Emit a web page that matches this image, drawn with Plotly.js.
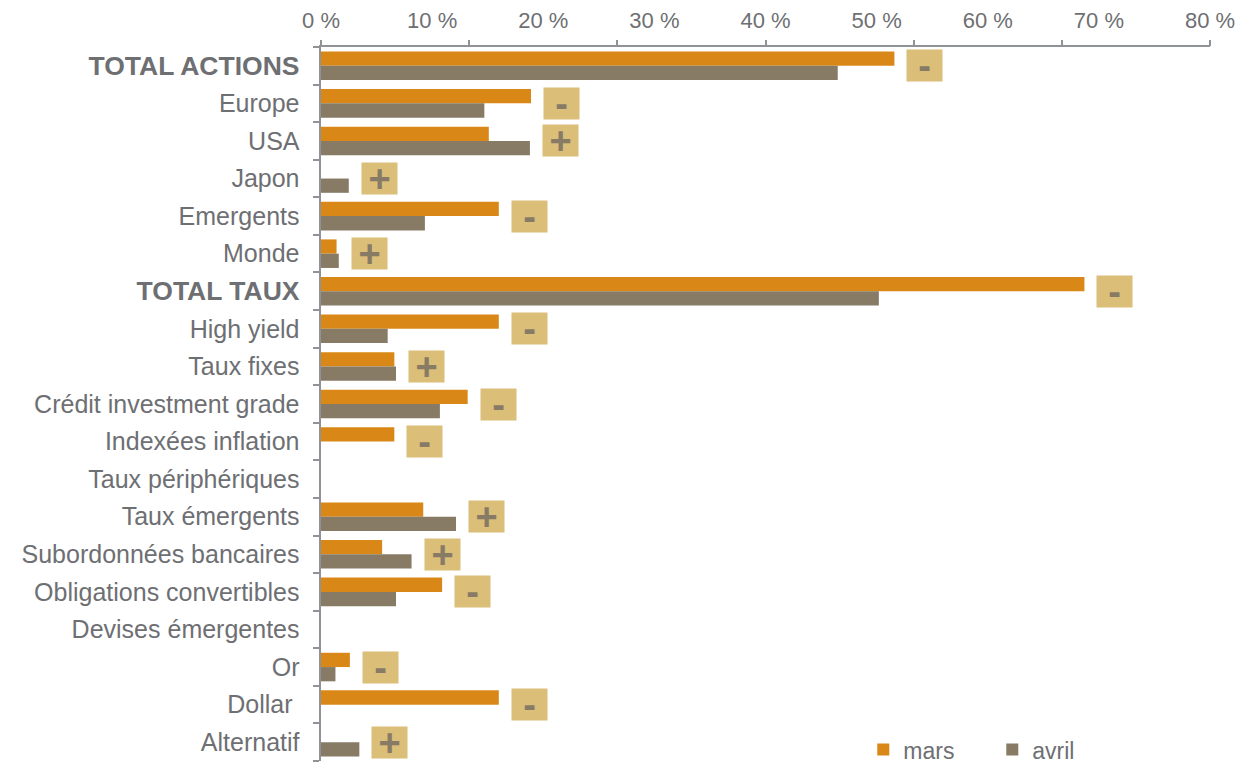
<!DOCTYPE html>
<html><head><meta charset="utf-8">
<script src="https://cdn.plot.ly/plotly-3.0.1.min.js"></script>
<style>html,body{margin:0;padding:0;background:#fff;} #chart{width:1245px;height:763px;}</style>
</head><body><div id="chart"></div>
<script>
const categories = ['TOTAL ACTIONS','Europe','USA','Japon','Emergents','Monde','TOTAL TAUX','High yield','Taux fixes','Crédit investment grade','Indexées inflation','Taux périphériques','Taux émergents','Subordonnées bancaires','Obligations convertibles','Devises émergentes','Or','Dollar ','Alternatif'];
const boldCategories = ['TOTAL ACTIONS','TOTAL TAUX'];
const mars  = [51.6, 18.9, 15.1, null, 16.0, 1.4, 68.7, 16.0, 6.6, 13.2, 6.6, null, 9.2, 5.5, 10.9, null, 2.6, 16.0, null];
const avril = [46.5, 14.7, 18.8, 2.5, 9.35, 1.6, 50.2, 6.0, 6.75, 10.7, null, null, 12.15, 8.15, 6.75, null, 1.3, null, 3.45];
const trend = ['-','-','+','+','-','+','-','-','+','-','-','','+','+','-','','-','-','+'];
const tickValues = [0,10,20,30,40,50,60,70,80];
const tickLabels = tickValues.map(v => v + ' %');
const seriesNames = ['mars','avril'];

const ORANGE = '#D98817', BROWN = '#877B66', BOX = '#DBBE78', TXT = '#6E6F73', AX = '#8F9297';
const FONT = 'Liberation Sans, Arial, sans-serif';

const yText = categories.map(c => boldCategories.includes(c) ? '<b><span style="font-size:26.5px">' + c + '</span></b>' : c);

const traces = [
  {type:'bar', orientation:'h', name:seriesNames[0], x:mars, y:categories, marker:{color:ORANGE}, hoverinfo:'none'},
  {type:'bar', orientation:'h', name:seriesNames[1], x:avril, y:categories, marker:{color:BROWN}, hoverinfo:'none'},
  {type:'scatter', x:[0,80], y:[categories[0],categories[0]], xaxis:'x2', yaxis:'y', mode:'none', showlegend:false, hoverinfo:'none'}
];

const annotations = [];
categories.forEach((c,i) => {
  if (!trend[i]) return;
  const m = Math.max(mars[i] || 0, avril[i] || 0);
  annotations.push({
    x:m, y:c, xref:'x', yref:'y', xanchor:'left', yanchor:'middle', xshift:12,
    text:'<b>' + trend[i] + '</b>', showarrow:false, bgcolor:BOX, width:35, height:31, borderpad:0,
    font:{size:38, color:BROWN, family:FONT}
  });
});

const tickMarks = [0,1,2,3,4,5,6].map(k => k * 80 / 6);

const layout = {
  width:1245, height:763,
  margin:{l:321, r:35, t:47, b:2, pad:0, autoexpand:false},
  paper_bgcolor:'#fff', plot_bgcolor:'#fff',
  barmode:'group', bargap:0.24, bargroupgap:0,
  font:{family:FONT, color:TXT},
  showlegend:true,
  legend:{orientation:'h', x:0.61, xanchor:'left', y:0.016, yanchor:'middle', font:{size:23, color:TXT}, entrywidth:84, entrywidthmode:'pixels', bgcolor:'rgba(0,0,0,0)', traceorder:'normal'},
  xaxis:{range:[0,80], side:'top', tickmode:'array', tickvals:tickValues, ticktext:tickLabels, ticks:'', showgrid:false, zeroline:false, showline:true, linecolor:AX, linewidth:2.5, tickfont:{size:22, color:TXT, family:FONT}, ticklabelstandoff:8, fixedrange:true},
  xaxis2:{range:[0,80], overlaying:'x', side:'top', tickmode:'array', tickvals:tickMarks, ticks:'outside', ticklen:6, tickwidth:2, tickcolor:AX, showticklabels:false, showgrid:false, zeroline:false, showline:false},
  yaxis:{type:'category', range:[categories.length - 0.5, -0.5], autorange:false, tickmode:'array', tickvals:categories, ticktext:yText, tickson:'boundaries', ticks:'outside', ticklen:6, tickwidth:2, tickcolor:AX, showline:true, linecolor:AX, linewidth:2.5, showgrid:false, zeroline:false, tickfont:{size:25, color:TXT, family:FONT}, ticklabelstandoff:14},
  annotations:annotations
};

Plotly.newPlot('chart', traces, layout, {displayModeBar:false, staticPlot:true});
</script>
</body></html>
